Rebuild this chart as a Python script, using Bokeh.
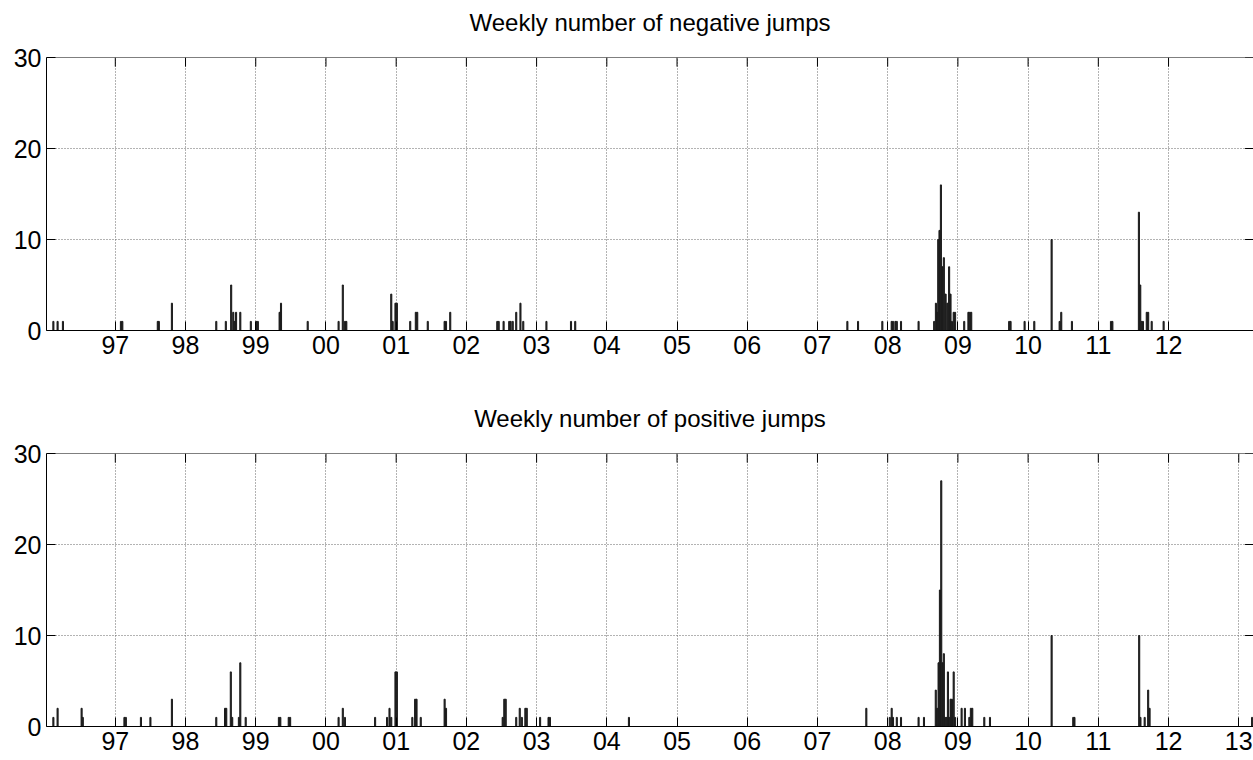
from bokeh.plotting import figure
from bokeh.models import ColumnDataSource, FixedTicker, LinearAxis, Range1d, Title, Span
from bokeh.layouts import column
from bokeh.embed import file_html
from bokeh.resources import INLINE

# ---- data (decimal year of the week, number of jumps) ----
neg_x = [1996.118, 1996.178, 1996.254, 1997.08, 1997.10, 1997.605, 1997.62, 1997.806,
         1998.438, 1998.574, 1998.65, 1998.68, 1998.70, 1998.72, 1998.78, 1998.93,
         1999.01, 1999.03, 1999.34, 1999.36, 1999.74, 2000.18, 2000.24, 2000.27, 2000.29,
         2000.93, 2000.95, 2000.99, 2001.01, 2001.20, 2001.28, 2001.30, 2001.45,
         2001.69, 2001.71, 2001.77, 2002.44, 2002.46, 2002.53, 2002.61, 2002.63, 2002.66,
         2002.71, 2002.77, 2002.81, 2003.14, 2003.49, 2003.55,
         2007.426, 2007.578, 2007.924, 2008.057, 2008.077, 2008.11, 2008.13, 2008.19, 2008.44,
         2008.662, 2008.687, 2008.705, 2008.72, 2008.738, 2008.758, 2008.78, 2008.80,
         2008.825, 2008.85, 2008.875, 2008.895, 2008.915, 2008.94, 2008.96,
         2009.09, 2009.15, 2009.17, 2009.19, 2009.73, 2009.75, 2009.95, 2010.088,
         2010.335, 2010.449, 2010.472, 2010.624, 2011.18, 2011.20, 2011.578, 2011.597,
         2011.617, 2011.636, 2011.69, 2011.71, 2011.76, 2011.93]
neg_h = [1, 1, 1, 1, 1, 1, 1, 3,
         1, 1, 5, 2, 1, 2, 2, 1,
         1, 1, 2, 3, 1, 1, 5, 1, 1,
         4, 1, 3, 3, 1, 2, 2, 1,
         1, 1, 2, 1, 1, 1, 1, 1, 1,
         2, 3, 1, 1, 1, 1,
         1, 1, 1, 1, 1, 1, 1, 1, 1,
         1, 3, 2, 10, 11, 16, 7, 8,
         4, 3, 7, 4, 1, 2, 2,
         1, 2, 2, 2, 1, 1, 1, 1,
         10, 1, 2, 1, 1, 1, 13, 5,
         1, 1, 2, 2, 1, 1]

pos_x = [1996.118, 1996.178, 1996.52, 1996.537, 1997.13, 1997.15, 1997.365, 1997.50, 1997.806,
         1998.438, 1998.563, 1998.58, 1998.645, 1998.665, 1998.76, 1998.78, 1998.857,
         1999.33, 1999.35, 1999.47, 1999.49, 2000.18, 2000.24, 2000.27, 2000.70, 2000.87,
         2000.905, 2000.93, 2000.99, 2001.01, 2001.23, 2001.27, 2001.29, 2001.35, 2001.69,
         2001.71, 2002.517, 2002.54, 2002.56, 2002.71, 2002.76, 2002.79, 2002.84, 2002.86,
         2003.05, 2003.17, 2003.19, 2004.315,
         2007.696, 2008.03, 2008.057, 2008.076, 2008.13, 2008.19, 2008.44, 2008.517,
         2008.685, 2008.705, 2008.725, 2008.744, 2008.763, 2008.782, 2008.80, 2008.82,
         2008.84, 2008.858, 2008.877, 2008.896, 2008.915, 2008.94, 2008.96,
         2009.053, 2009.10, 2009.163, 2009.185, 2009.205, 2009.376, 2009.457,
         2010.335, 2010.643, 2010.66, 2011.582, 2011.60, 2011.66, 2011.71, 2011.73, 2013.19]
pos_h = [1, 2, 2, 1, 1, 1, 1, 1, 3,
         1, 2, 2, 6, 1, 1, 7, 1,
         1, 1, 1, 1, 1, 2, 1, 1, 1,
         2, 1, 6, 6, 1, 3, 3, 1, 3,
         2, 1, 3, 3, 1, 2, 1, 2, 2,
         1, 1, 1, 1,
         2, 1, 2, 1, 1, 1, 1, 1,
         4, 2, 7, 15, 27, 7, 8, 1,
         1, 6, 1, 3, 3, 6, 1,
         2, 2, 1, 2, 2, 1, 1,
         10, 1, 1, 10, 1, 1, 4, 2, 1]

top_years = list(range(1997, 2013))
bottom_years = list(range(1997, 2014))
y_ticks = [0, 10, 20, 30]
titles = ["Weekly number of negative jumps", "Weekly number of positive jumps"]

FONT = "Liberation Sans"
X_START, X_END = 1996.02, 2013.21
Y_START, Y_END = 0, 30
BAR_W = 0.8 / 52
TICK_Y = 1.0     # inward tick length on the top edge, in y units (~9 px)
TICK_X = 0.12    # inward tick length on the right edge, in x units (~8 px)


def make_panel(xs, hs, years, title, height, bottom_border):
    p = figure(width=1253, height=height, output_backend="svg", toolbar_location=None,
               x_range=Range1d(X_START, X_END), y_range=Range1d(Y_START, Y_END),
               min_border_left=46, min_border_right=0,
               min_border_top=57, min_border_bottom=bottom_border,
               x_axis_location=None, y_axis_location=None)
    p.title = Title(text=title, align="center", vertical_align="top",
                    text_font=FONT, text_font_size="24px", text_font_style="normal",
                    text_color="black", standoff=14)
    # blank spacer between the title and the box, so the title sits higher
    p.add_layout(Title(text=" ", text_font_size="1px", standoff=10), "above")
    p.outline_line_color = None
    p.background_fill_color = "white"
    p.border_fill_color = "white"

    labels = {y: f"{y % 100:02d}" for y in years}

    def style(ax):
        ax.major_tick_in = 9
        ax.major_tick_out = 0
        ax.minor_tick_line_color = None
        ax.axis_line_color = "black"
        ax.major_tick_line_color = "black"
        ax.major_label_text_font = FONT
        ax.major_label_text_color = "black"
        ax.major_label_text_font_size = "25px"
        ax.major_label_standoff = 5

    xb = LinearAxis(ticker=FixedTicker(ticks=years), major_label_overrides=labels)
    style(xb)
    p.add_layout(xb, "below")
    yl = LinearAxis(ticker=FixedTicker(ticks=y_ticks))
    style(yl)
    p.add_layout(yl, "left")

    p.xgrid.ticker = FixedTicker(ticks=years)
    p.ygrid.ticker = FixedTicker(ticks=y_ticks)
    for g in (p.xgrid[0], p.ygrid[0]):
        g.grid_line_color = "#666666"
        g.grid_line_dash = "1 2"
        g.grid_line_width = 1

    # top edge of the box and inward ticks on the top and right edges
    p.add_layout(Span(location=Y_END, dimension="width", line_color="black", line_width=1))
    p.segment(x0=years, y0=[Y_END] * len(years), x1=years, y1=[Y_END - TICK_Y] * len(years),
              line_color="black", line_width=1)
    p.segment(x0=[X_END] * len(y_ticks), y0=y_ticks, x1=[X_END - TICK_X] * len(y_ticks),
              y1=y_ticks, line_color="black", line_width=1)

    src = ColumnDataSource(data=dict(x=xs, h=hs))
    p.vbar(x="x", top="h", bottom=0, width=BAR_W, source=src,
           fill_color="#262626", line_color="#1a1a1a", line_width=1)
    return p


p1 = make_panel(neg_x, neg_h, top_years, titles[0], 396, 66)
p2 = make_panel(pos_x, pos_h, bottom_years, titles[1], 364, 34)
layout = column(p1, p2, spacing=0)

open("out.html", "w").write(file_html(layout, INLINE))
